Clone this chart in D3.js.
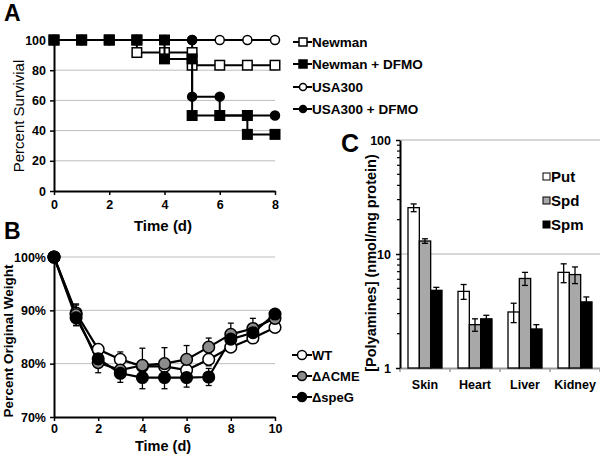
<!DOCTYPE html>
<html><head><meta charset="utf-8">
<script src="https://cdn.jsdelivr.net/npm/d3@7"></script>
<style>
body{margin:0;background:#fff;}
svg{display:block;font-family:"Liberation Sans",Arial,sans-serif;}
</style></head>
<body><svg id="c" width="600" height="459"></svg>
<script>
// ---------- Panel A: survival (Kaplan-Meier step data) ----------
const survivalSeries = ["Newman", "Newman + DFMO", "USA300", "USA300 + DFMO"];
const newmanPts     = [[0,100],[1,100],[2,100],[3,100],[3,91.7],[4,91.7],[5,91.7],[5,83.3],[6,83.3],[7,83.3],[8,83.3]];
const newmanDfmoPts = [[0,100],[1,100],[2,100],[3,100],[4,100],[4,87.5],[5,87.5],[5,50],[6,50],[7,50],[7,37.5],[8,37.5]];
const usaPts        = [[0,100],[1,100],[2,100],[3,100],[4,100],[5,100],[6,100],[7,100],[8,100]];
const usaDfmoPts    = [[0,100],[1,100],[2,100],[3,100],[4,100],[5,100],[5,62.5],[6,62.5],[6,50],[7,50],[8,50]];
const survivalTicksY = [0,20,40,60,80,100];
const survivalTicksX = [0,2,4,6,8];

// ---------- Panel B: weight ----------
const weightDays = [0,1,2,3,4,5,6,7,8,9,10];
const weightSeries = ["WT", "\u0394ACME", "\u0394speG"];
const wtWeight   = [100,89.5,82.7,80.8,79.5,79.5,78.8,80.8,83.1,84.8,86.8];
const acmeWeight = [100,89.2,80.2,78.8,79.7,80.0,80.8,83.1,85.5,86.6,88.5];
const speGWeight = [100,88.6,80.9,78.2,77.4,77.4,77.4,77.5,84.6,85.8,89.3];
const wtErr   = [0,1.5,0.8,1.4,1.0,1.0,1.0,1.2,0.8,0.8,0.8];
const acmeErr = [0,2.0,1.9,1.2,3.2,3.0,2.6,1.7,2.1,1.9,1.0];
const speGErr = [0,1.5,1.2,1.7,2.1,2.1,1.8,1.6,1.2,1.2,0.7];
const weightTicksY = [70,80,90,100];
const weightTicksX = [0,2,4,6,8,10];

// ---------- Panel C: polyamines ----------
const tissues = ["Skin","Heart","Liver","Kidney"];
const polySeries = ["Put","Spd","Spm"];
const putVals = [25.5, 4.7, 3.1, 6.9];
const spdVals = [13.0, 2.4, 6.1, 6.6];
const spmVals = [4.8, 2.7, 2.2, 3.8];
const putErr  = [2.0, 0.7, 0.6, 1.3];
const spdErr  = [0.6, 0.3, 0.8, 1.1];
const spmErr  = [0.3, 0.2, 0.2, 0.4];
const polyTicks = [1,10,100];

const svg = d3.select("#c");
const FONT = "\"Liberation Sans\",Arial,sans-serif";

function styleAxis(g, color){
  g.select(".domain").attr("stroke", color).attr("stroke-width", 2);
  g.selectAll(".tick line").attr("stroke", color).attr("stroke-width", 1.5);
  g.selectAll(".tick text").attr("fill","#000").attr("font-size",12.5).attr("font-weight","bold").attr("font-family",FONT);
}

// ================= Panel A =================
{
  const x = d3.scaleLinear().domain([0,8]).range([54,275]);
  const y = d3.scaleLinear().domain([0,100]).range([191,40]);
  const g = svg.append("g");
  g.selectAll("line.grid").data(survivalTicksY.filter(d=>d>0)).join("line")
    .attr("x1",x(0)).attr("x2",x(8)).attr("y1",d=>y(d)).attr("y2",d=>y(d))
    .attr("stroke","#bdbdbd").attr("stroke-width",1);
  const ya = g.append("g").attr("transform",`translate(${x(0)},0)`)
    .call(d3.axisLeft(y).tickValues(survivalTicksY).tickSize(4).tickSizeOuter(0).tickPadding(4));
  styleAxis(ya,"#000");
  const xa = g.append("g").attr("transform",`translate(0,${y(0)})`)
    .call(d3.axisBottom(x).tickValues(survivalTicksX).tickSize(4).tickSizeOuter(0).tickPadding(5));
  styleAxis(xa,"#000");

  const data = {"Newman":newmanPts,"Newman + DFMO":newmanDfmoPts,"USA300":usaPts,"USA300 + DFMO":usaDfmoPts};
  const sty = {
    "Newman":{shape:"square",fill:"#fff"},
    "Newman + DFMO":{shape:"square",fill:"#000"},
    "USA300":{shape:"circle",fill:"#fff"},
    "USA300 + DFMO":{shape:"circle",fill:"#000"}
  };
  const order = ["USA300","USA300 + DFMO","Newman","Newman + DFMO"];
  const line = d3.line().x(d=>x(d[0])).y(d=>y(d[1]));
  function marker(sel, s, size){
    if(s.shape==="square"){
      sel.append("rect").attr("x",-size/2).attr("y",-size/2).attr("width",size).attr("height",size)
        .attr("fill",s.fill).attr("stroke","#000").attr("stroke-width",1.5);
    } else {
      sel.append("circle").attr("r",size/2).attr("fill",s.fill).attr("stroke","#000").attr("stroke-width",1.5);
    }
  }
  order.forEach(name=>{
    const pts = data[name];
    g.append("path").attr("d",line(pts)).attr("fill","none").attr("stroke","#000").attr("stroke-width",2);
    pts.forEach(p=>{
      const m = g.append("g").attr("transform",`translate(${x(p[0])},${y(p[1])})`);
      marker(m, sty[name], sty[name].shape==="square"?9.5:9);
    });
  });
  // legend
  const ly = [42,64,87,109];
  survivalSeries.forEach((name,i)=>{
    const lg = g.append("g").attr("transform",`translate(0,${ly[i]})`);
    lg.append("line").attr("x1",293).attr("x2",312).attr("y1",0).attr("y2",0).attr("stroke","#000").attr("stroke-width",2);
    const s = sty[name];
    const m = lg.append("g").attr("transform","translate(303,0)");
    if(s.shape==="square"){
      m.append("rect").attr("x",-4).attr("y",-4).attr("width",8).attr("height",8).attr("fill",s.fill).attr("stroke","#000").attr("stroke-width",1.5);
    } else {
      m.append("circle").attr("r",3.5).attr("fill",s.fill).attr("stroke","#000").attr("stroke-width",1.5);
    }
    lg.append("text").attr("x",312).attr("y",5).attr("font-size",13.5).attr("font-weight","bold").attr("font-family",FONT).text(name);
  });
  g.append("text").attr("transform","translate(24,116) rotate(-90)").attr("text-anchor","middle")
    .attr("font-size",15).attr("font-family",FONT).text("Percent Survivial");
  g.append("text").attr("x",163).attr("y",231).attr("text-anchor","middle").attr("font-size",15).attr("font-weight","bold").attr("font-family",FONT).text("Time (d)");
  g.append("text").attr("x",4).attr("y",21).attr("font-size",23).attr("font-weight","bold").attr("font-family",FONT).text("A");
}

// ================= Panel B =================
{
  const x = d3.scaleLinear().domain([0,10]).range([54,275]);
  const y = d3.scaleLinear().domain([70,100]).range([417,257]);
  const g = svg.append("g");
  g.selectAll("line.grid").data(weightTicksY.filter(d=>d>70)).join("line")
    .attr("x1",x(0)).attr("x2",x(10)).attr("y1",d=>y(d)).attr("y2",d=>y(d))
    .attr("stroke","#bdbdbd").attr("stroke-width",1);
  const ya = g.append("g").attr("transform",`translate(${x(0)},0)`)
    .call(d3.axisLeft(y).tickValues(weightTicksY).tickFormat(d=>d+"%").tickSize(4).tickSizeOuter(0).tickPadding(4));
  styleAxis(ya,"#000");
  const xa = g.append("g").attr("transform",`translate(0,${y(70)})`)
    .call(d3.axisBottom(x).tickValues(weightTicksX).tickSize(4).tickSizeOuter(0).tickPadding(3));
  styleAxis(xa,"#000");

  const sets = [
    {name:"WT", vals:wtWeight, err:wtErr, fill:"#fff"},
    {name:"\u0394ACME", vals:acmeWeight, err:acmeErr, fill:"#8c8c8c"},
    {name:"\u0394speG", vals:speGWeight, err:speGErr, fill:"#000"}
  ];
  const line = d3.line().x((d,i)=>x(weightDays[i])).y(d=>y(d));
  // error bars
  sets.forEach(s=>{
    s.vals.forEach((v,i)=>{
      if(!s.err[i]) return;
      const xx = x(weightDays[i]);
      g.append("line").attr("x1",xx).attr("x2",xx).attr("y1",y(v+s.err[i])).attr("y2",y(v-s.err[i])).attr("stroke","#000").attr("stroke-width",1.3);
      [v+s.err[i], v-s.err[i]].forEach(e=>{
        g.append("line").attr("x1",xx-3).attr("x2",xx+3).attr("y1",y(e)).attr("y2",y(e)).attr("stroke","#000").attr("stroke-width",1.3);
      });
    });
  });
  sets.forEach(s=>{
    g.append("path").attr("d",line(s.vals)).attr("fill","none").attr("stroke","#000").attr("stroke-width",2.2);
  });
  sets.forEach(s=>{
    s.vals.forEach((v,i)=>{
      g.append("circle").attr("cx",x(weightDays[i])).attr("cy",y(v)).attr("r",5.8)
        .attr("fill",s.fill).attr("stroke","#000").attr("stroke-width",1.5);
    });
  });
  const ly = [355,376,397];
  sets.forEach((s,i)=>{
    const lg = g.append("g").attr("transform",`translate(0,${ly[i]})`);
    lg.append("line").attr("x1",292).attr("x2",312).attr("y1",0).attr("y2",0).attr("stroke","#000").attr("stroke-width",2);
    lg.append("circle").attr("cx",302).attr("cy",0).attr("r",4.5).attr("fill",s.fill).attr("stroke","#000").attr("stroke-width",1.5);
    lg.append("text").attr("x",312).attr("y",5).attr("font-size",13).attr("font-weight","bold").attr("font-family",FONT).text(s.name);
  });
  g.append("text").attr("transform","translate(13,341) rotate(-90)").attr("text-anchor","middle")
    .attr("font-size",13.5).attr("font-weight","bold").attr("font-family",FONT).text("Percent Original Weight");
  g.append("text").attr("x",163).attr("y",451).attr("text-anchor","middle").attr("font-size",14.5).attr("font-weight","bold").attr("font-family",FONT).text("Time (d)");
  g.append("text").attr("x",4).attr("y",239).attr("font-size",23).attr("font-weight","bold").attr("font-family",FONT).text("B");
}

// ================= Panel C =================
{
  const x = d3.scaleBand().domain(tissues).range([400,600]);
  const xs = d3.scaleBand().domain(polySeries).range([8,42]);
  const y = d3.scaleLog().domain([1,100]).range([368,140]);
  const g = svg.append("g");
  g.selectAll("line.grid").data([10,100]).join("line")
    .attr("x1",400).attr("x2",600).attr("y1",d=>y(d)).attr("y2",d=>y(d))
    .attr("stroke","#b0b0b0").attr("stroke-width",1);
  // bottom axis (gray)
  const xa = g.append("g").attr("transform",`translate(0,${y(1)})`)
    .call(d3.axisBottom(x).tickSize(0).tickPadding(12));
  xa.select(".domain").attr("stroke","#9a9a9a").attr("stroke-width",2);
  xa.selectAll(".tick text").attr("font-size",12.5).attr("font-weight","bold").attr("font-family",FONT).attr("fill","#000");
  g.selectAll("line.bt").data(tissues.concat(["end"])).join("line")
    .attr("x1",(d,i)=>400+i*x.bandwidth()).attr("x2",(d,i)=>400+i*x.bandwidth())
    .attr("y1",y(1)).attr("y2",y(1)+4).attr("stroke","#9a9a9a").attr("stroke-width",1.5);

  const vals = {"Put":putVals,"Spd":spdVals,"Spm":spmVals};
  const errs = {"Put":putErr,"Spd":spdErr,"Spm":spmErr};
  const fills = {"Put":"#fff","Spd":"#a8a8a8","Spm":"#000"};
  polySeries.forEach(s=>{
    tissues.forEach((t,i)=>{
      const v = vals[s][i];
      g.append("rect").attr("x",x(t)+xs(s)).attr("y",y(v)).attr("width",xs.bandwidth()).attr("height",y(1)-y(v))
        .attr("fill",fills[s]).attr("stroke","#000").attr("stroke-width",1.3);
    });
  });
  polySeries.forEach(s=>{
    tissues.forEach((t,i)=>{
      const v = vals[s][i], e = errs[s][i];
      const cx = x(t)+xs(s)+xs.bandwidth()/2;
      g.append("line").attr("x1",cx).attr("x2",cx).attr("y1",y(v+e)).attr("y2",y(v-e)).attr("stroke","#000").attr("stroke-width",1.3);
      [v+e, v-e].forEach(ev=>{
        g.append("line").attr("x1",cx-3).attr("x2",cx+3).attr("y1",y(ev)).attr("y2",y(ev)).attr("stroke","#000").attr("stroke-width",1.3);
      });
    });
  });
  // left axis
  const ya = g.append("g").attr("transform","translate(400,0)")
    .call(d3.axisLeft(y).tickValues(polyTicks).tickFormat(d3.format("d")).tickSize(4).tickSizeOuter(0).tickPadding(5));
  styleAxis(ya,"#000");
  const minor = [];
  [1,10].forEach(dec=>{ for(let k=2;k<=9;k++) minor.push(dec*k); });
  g.selectAll("line.minor").data(minor).join("line")
    .attr("x1",400).attr("x2",397).attr("y1",d=>y(d)).attr("y2",d=>y(d)).attr("stroke","#000").attr("stroke-width",1.2);
  // legend
  const ly = [177,201,225];
  polySeries.forEach((s,i)=>{
    g.append("rect").attr("x",543).attr("y",ly[i]-4).attr("width",7).attr("height",7).attr("fill",fills[s]).attr("stroke","#000").attr("stroke-width",1);
    g.append("text").attr("x",551).attr("y",ly[i]+5).attr("font-size",15).attr("font-weight","bold").attr("font-family",FONT).text(s);
  });
  g.append("text").attr("transform","translate(376,263) rotate(-90)").attr("text-anchor","middle")
    .attr("font-size",14.5).attr("font-weight","bold").attr("font-family",FONT).text("[Polyamines] (nmol/mg protein)");
  g.append("text").attr("x",341).attr("y",152).attr("font-size",25).attr("font-weight","bold").attr("font-family",FONT).text("C");
}
</script></body></html>
